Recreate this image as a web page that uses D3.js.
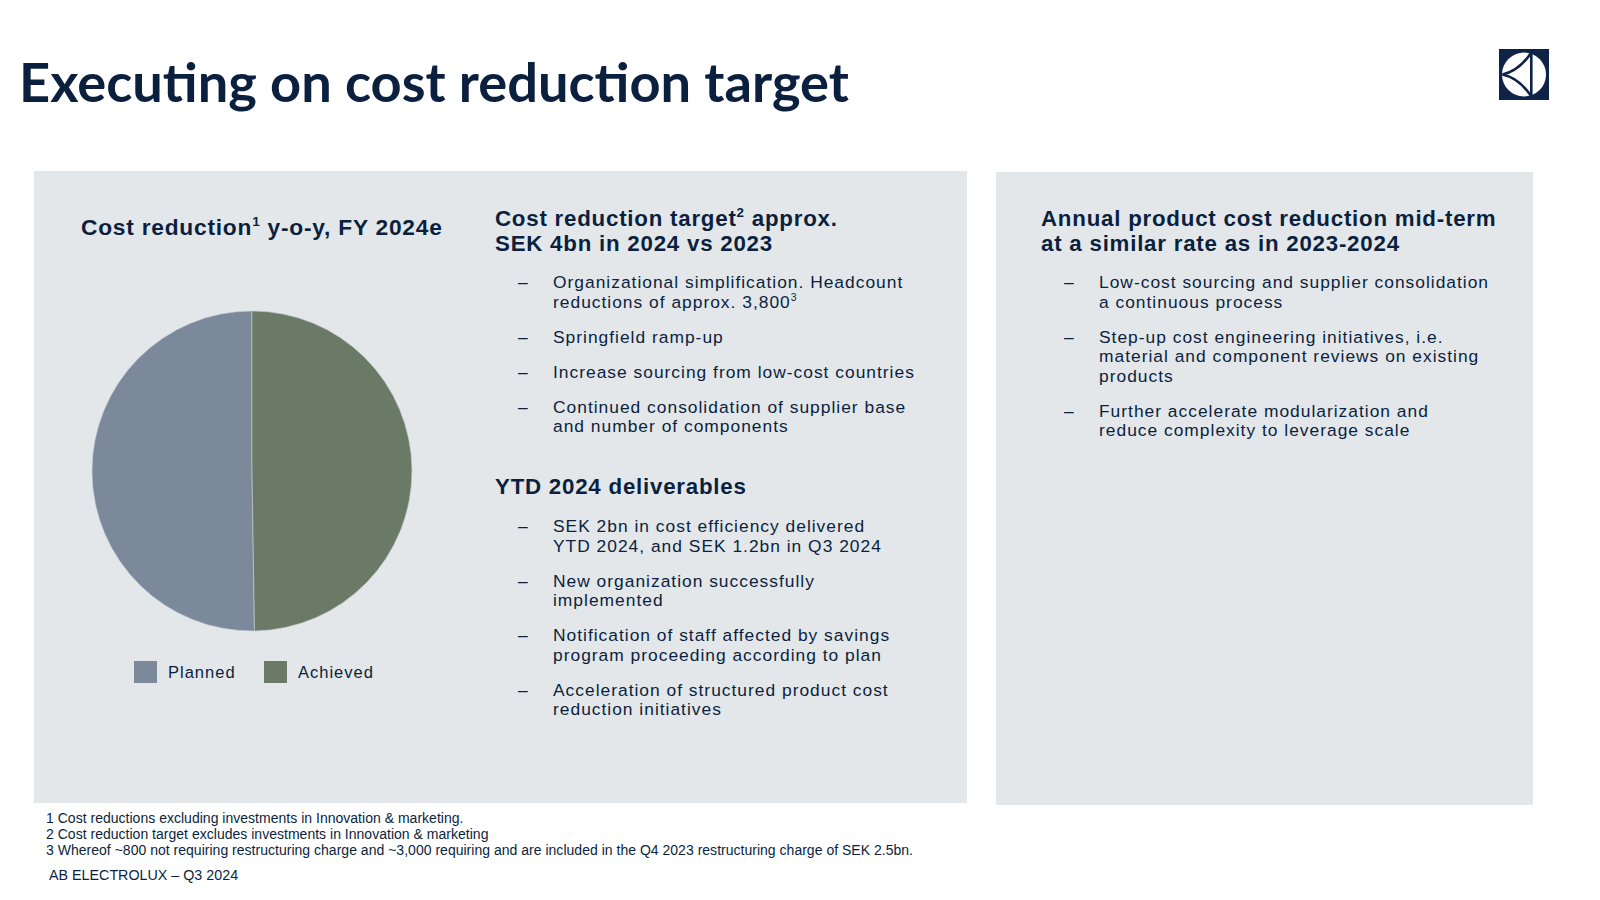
<!DOCTYPE html>
<html>
<head>
<meta charset="utf-8">
<script src="https://cdn.jsdelivr.net/npm/d3@7"></script>
<style>
  html, body { margin: 0; padding: 0; background: #fff; }
  svg { display: block; font-family: "Liberation Sans", Arial, sans-serif; }
</style>
</head>
<body>
<svg id="slide" width="1600" height="900"></svg>
<script>
// chart data
const categories = ["Planned", "Achieved"];
const values = [2.01, 1.99];
const colors = ["#7b899b", "#6b7a66"];

// slide texts
const title = "Executing on cost reduction target";
const pieTitle = ["Cost reduction", "1", " y-o-y, FY 2024e"];
const targetHeading = [["Cost reduction target", "2", " approx."], ["SEK 4bn in 2024 vs 2023"]];
const targetBullets = [
  [["Organizational simplification. Headcount"], ["reductions of approx. 3,800", "3"]],
  [["Springfield ramp-up"]],
  [["Increase sourcing from low-cost countries"]],
  [["Continued consolidation of supplier base"], ["and number of components"]]
];
const ytdHeading = [["YTD 2024 deliverables"]];
const ytdBullets = [
  [["SEK 2bn in cost efficiency delivered"], ["YTD 2024, and SEK 1.2bn in Q3 2024"]],
  [["New organization successfully"], ["implemented"]],
  [["Notification of staff affected by savings"], ["program proceeding according to plan"]],
  [["Acceleration of structured product cost"], ["reduction initiatives"]]
];
const midHeading = [["Annual product cost reduction mid-term"], ["at a similar rate as in 2023-2024"]];
const midBullets = [
  [["Low-cost sourcing and supplier consolidation"], ["a continuous process"]],
  [["Step-up cost engineering initiatives, i.e."], ["material and component reviews on existing"], ["products"]],
  [["Further accelerate modularization and"], ["reduce complexity to leverage scale"]]
];
const footnotes = [
  "1 Cost reductions excluding investments in Innovation & marketing.",
  "2 Cost reduction target excludes investments in Innovation & marketing",
  "3 Whereof ~800 not requiring restructuring charge and ~3,000 requiring and are included in the Q4 2023 restructuring charge of SEK 2.5bn."
];
const footer = "AB ELECTROLUX \u2013 Q3 2024";

const navy = "#0b1f3e";
const panel = "#e3e7ea";
const svg = d3.select("#slide");

// size (capped) and letter spacing that make a string reach a target width
function fit(text, weight, target, maxSize, family) {
  const t = svg.append("text").attr("font-size", 100).attr("font-weight", weight).text(text);
  if (family) t.attr("font-family", family);
  const w = t.node().getComputedTextLength();
  t.remove();
  const size = Math.min(100 * target / w, maxSize);
  const ls = (target - w * size / 100) / text.length;
  return { size, ls };
}

const titleFit = fit(title, 700, 830, 80, "Lato");
const headFit = fit("SEK 4bn in 2024 vs 2023", 700, 278, 22.3);
const bodyFit = fit("Increase sourcing from low-cost countries", 400, 362, 17.4);
const noteFit = fit(footnotes[2], 400, 867, 14);

// panels
svg.append("rect").attr("x", 34).attr("y", 171).attr("width", 933).attr("height", 632).attr("fill", panel);
svg.append("rect").attr("x", 996).attr("y", 172).attr("width", 537).attr("height", 633).attr("fill", panel);

// title
svg.append("text").attr("x", 19).attr("y", 102).attr("font-family", "Lato")
  .attr("font-size", titleFit.size).attr("font-weight", 700).attr("fill", navy).text(title);

// logo
const logo = svg.append("g").attr("transform", "translate(1499,49)");
logo.append("rect").attr("width", 50).attr("height", 51).attr("fill", "#0e2347");
logo.append("circle").attr("cx", 25).attr("cy", 25.5).attr("r", 22).attr("fill", "#fff");
logo.append("rect").attr("x", 31).attr("y", 2).attr("width", 2.6).attr("height", 47).attr("fill", "#0e2347");
logo.append("path").attr("d", "M3.5,25.5 Q20,22 32,4").attr("fill", "none").attr("stroke", "#0e2347").attr("stroke-width", 2.6);
logo.append("path").attr("d", "M3.5,25.5 Q20,29 32,47").attr("fill", "none").attr("stroke", "#0e2347").attr("stroke-width", 2.6);

// one text element holding several lines, with optional superscripts
function paragraph(x, y, lines, f, weight, lineH) {
  const size = f.size;
  const t = svg.append("text").attr("x", x).attr("y", y)
    .attr("font-size", size).attr("letter-spacing", f.ls)
    .attr("font-weight", weight).attr("fill", navy);
  lines.forEach((parts, i) => {
    t.append("tspan").attr("x", x).attr("y", y + i * lineH).text(parts[0]);
    if (parts.length > 1) {
      t.append("tspan").attr("font-size", size * 0.6).attr("dy", -size * 0.4).text(parts[1]);
      if (parts[2]) t.append("tspan").attr("dy", size * 0.4).text(parts[2]);
    }
  });
  return t;
}

// pie title
paragraph(81, 235, [pieTitle], { size: headFit.size * 1.02, ls: headFit.ls }, 700, 25);

// pie
const pie = d3.pie().sort(null).value(d => d.value).startAngle(2 * Math.PI).endAngle(0);
const arc = d3.arc().innerRadius(0).outerRadius(160);
const pieData = categories.map((c, i) => ({ name: c, value: values[i], color: colors[i] }));
svg.append("g").attr("transform", "translate(252,471)")
  .selectAll("path").data(pie(pieData)).join("path")
  .attr("d", arc).attr("fill", d => d.data.color)
  .attr("stroke", "#c9cfd6").attr("stroke-width", 0.6);

// legend
const legendX = d3.scaleOrdinal().domain(categories).range([134, 264]);
const lg = svg.append("g").selectAll("g").data(pieData).join("g")
  .attr("transform", d => `translate(${legendX(d.name)},661)`);
lg.append("rect").attr("width", 23).attr("height", 22).attr("fill", d => d.color);
lg.append("text").attr("x", 34).attr("y", 16.5).attr("font-size", bodyFit.size * 0.95)
  .attr("letter-spacing", bodyFit.ls).attr("fill", navy).text(d => d.name);

// heading + bullets block
function block(x, headY, heading, bullets, firstGap) {
  paragraph(x, headY, heading, headFit, 700, 25);
  let y = headY + (heading.length - 1) * 25 + firstGap;
  bullets.forEach(lines => {
    svg.append("text").attr("x", x + 23).attr("y", y).attr("font-size", bodyFit.size)
      .attr("fill", navy).text("\u2013");
    paragraph(x + 58, y, lines, bodyFit, 400, 19.5);
    y += (lines.length - 1) * 19.5 + 35;
  });
}

block(495, 226, targetHeading, targetBullets, 37);
block(495, 494, ytdHeading, ytdBullets, 38);
block(1041, 226, midHeading, midBullets, 37);

// footnotes
paragraph(46, 823, footnotes.map(f => [f]), noteFit, 400, 16);
svg.append("text").attr("x", 49).attr("y", 880).attr("font-size", noteFit.size * 1.02)
  .attr("letter-spacing", noteFit.ls).attr("fill", navy).text(footer);
</script>
</body>
</html>
